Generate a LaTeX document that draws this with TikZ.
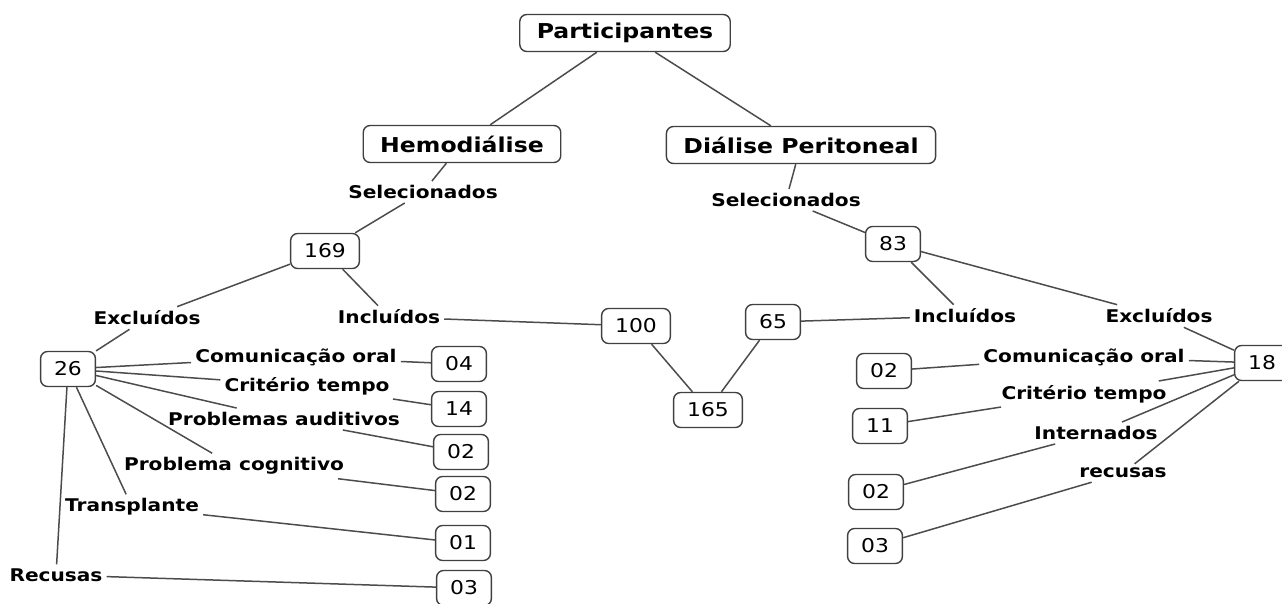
\documentclass[tikz,border=0pt]{standalone}
\usepackage{fontspec}
\setmainfont[FakeStretch=1.15]{DejaVu Sans}

\begin{document}
\begin{tikzpicture}[x=1pt,y=-1pt,
    concept/.style={shape=rectangle,rounded corners=7pt,draw=black!75,line width=1.4pt,
      font=\fontsize{19}{20}\selectfont,minimum height=35pt,inner xsep=13.5pt},
    title/.style={concept,font=\fontsize{20.5}{22}\selectfont\bfseries,minimum height=37pt,inner xsep=17pt},
    phrase/.style={font=\fontsize{17.5}{18}\selectfont\bfseries,inner sep=4pt},
    every edge/.style={draw=black!70,line width=1.5pt}]
    \useasboundingbox (0,0) rectangle (1282,604);
    % top
    \node[title] (part) at (625,33) {Participantes};
    \node[title] (hemo) at (462,144) {Hemodiálise};
    \node[title] (dp) at (801,145) {Diálise Peritoneal};
    \node[phrase] (selH) at (423,192) {Selecionados};
    \node[phrase] (selD) at (786,200) {Selecionados};
    \node[concept] (n169) at (325,251) {169};
    \node[concept] (n83) at (893,244) {83};
    \node[phrase] (excH) at (147,318) {Excluídos};
    \node[phrase] (incH) at (389,317) {Incluídos};
    \node[phrase] (incD) at (965,316) {Incluídos};
    \node[phrase] (excD) at (1159,316) {Excluídos};
    \node[concept] (n100) at (636,326) {100};
    \node[concept] (n65) at (773,322) {65};
    \node[concept] (n165) at (708,410) {165};
    % hemodialise excluidos
    \node[concept] (n26) at (68,369) {26};
    \node[phrase] (comH) at (296,357) {Comunicação oral};
    \node[phrase] (temH) at (307,386) {Critério tempo};
    \node[phrase] (audH) at (284,419) {Problemas auditivos};
    \node[phrase] (cogH) at (234,466) {Problema cognitivo};
    \node[phrase] (traH) at (132,507) {Transplante};
    \node[phrase] (recH) at (56,575) {Recusas};
    \node[concept] (h04) at (459,364) {04};
    \node[concept] (h14) at (459,409) {14};
    \node[concept] (h02a) at (461,452) {02};
    \node[concept] (h02b) at (463,494) {02};
    \node[concept] (h01) at (463,543) {01};
    \node[concept] (h03) at (464,588) {03};
    % dialise peritoneal excluidos
    \node[concept] (n18) at (1262,363) {18};
    \node[phrase] (comD) at (1084,357) {Comunicação oral};
    \node[phrase] (temD) at (1084,394) {Critério tempo};
    \node[phrase] (intD) at (1096,433) {Internados};
    \node[phrase] (recD) at (1123,473) {recusas};
    \node[concept] (d02a) at (884,371) {02};
    \node[concept] (d11) at (880,426) {11};
    \node[concept] (d02b) at (876,492) {02};
    \node[concept] (d03) at (875,546) {03};
    % links
    \path (part) edge (hemo);
    \path (part) edge (dp);
    \path (hemo) edge (selH);
    \path (selH) edge (n169);
    \path (dp) edge (selD);
    \path (selD) edge (n83);
    \path (n169) edge (excH);
    \path (excH) edge (n26);
    \path (n169) edge (incH);
    \path (incH) edge (n100);
    \path (n83) edge (incD);
    \path (incD) edge (n65);
    \path (n83) edge (excD);
    \path (excD) edge (n18);
    \path (n100) edge (n165);
    \path (n65) edge (n165);
    \path (n26) edge (comH);
    \path (comH) edge (h04);
    \path (n26) edge (temH);
    \path (temH) edge (h14);
    \path (n26) edge (audH);
    \path (audH) edge (h02a);
    \path (n26) edge (cogH);
    \path (cogH) edge (h02b);
    \path (n26) edge (traH);
    \path (traH) edge (h01);
    \path (n26) edge (recH);
    \path (recH) edge (h03);
    \path (n18) edge (comD);
    \path (comD) edge (d02a);
    \path (n18) edge (temD);
    \path (temD) edge (d11);
    \path (n18) edge (intD);
    \path (intD) edge (d02b);
    \path (n18) edge (recD);
    \path (recD) edge (d03);
\end{tikzpicture}
\end{document}
